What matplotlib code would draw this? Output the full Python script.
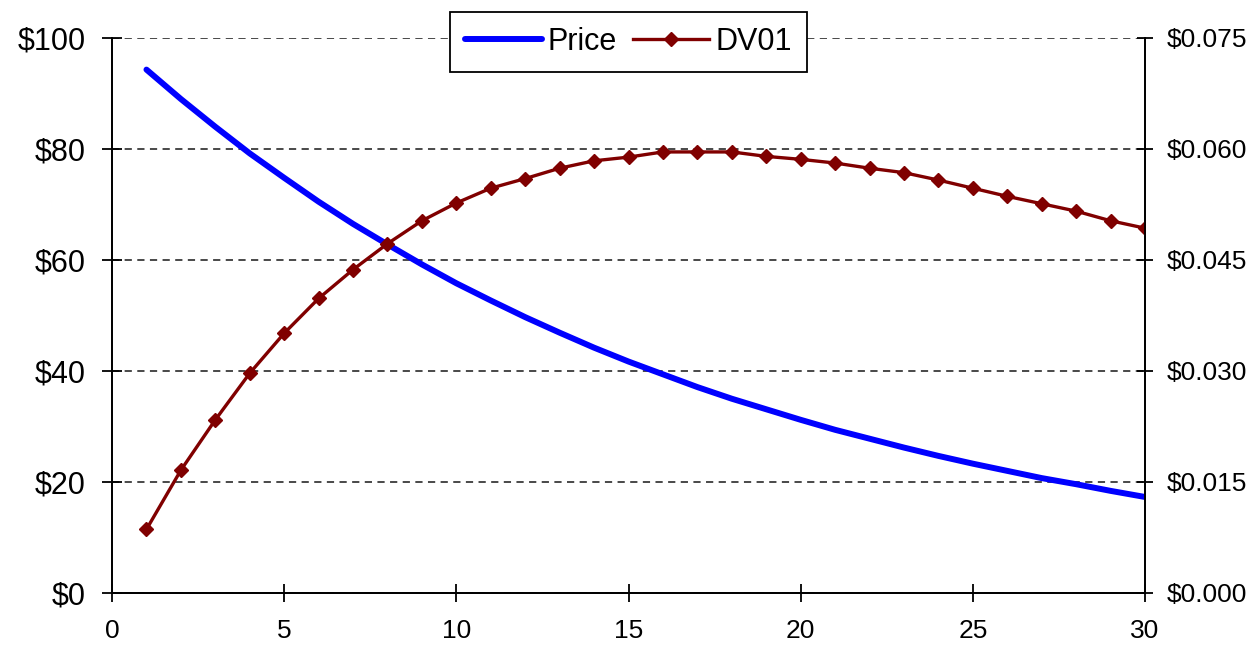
import matplotlib.pyplot as plt
import matplotlib.ticker as mtick

plt.rcParams['font.family'] = ['Liberation Sans', 'DejaVu Sans']

# maturity in years
years = list(range(1, 31))

# bond price ($)
price = [94.3, 89.0, 84.0, 79.2, 74.8, 70.5, 66.5, 62.8, 59.2, 55.8,
         52.7, 49.7, 46.9, 44.2, 41.7, 39.4, 37.1, 35.0, 33.1, 31.2,
         29.4, 27.8, 26.2, 24.7, 23.3, 22.0, 20.7, 19.6, 18.4, 17.3]

# DV01 ($)
dv01 = [0.0086, 0.0166, 0.0234, 0.0297, 0.0351, 0.0398, 0.0437, 0.0472, 0.0503, 0.0527,
        0.0547, 0.0560, 0.0574, 0.0584, 0.0589, 0.0596, 0.0596, 0.0596, 0.0590, 0.0586,
        0.0581, 0.0574, 0.0568, 0.0558, 0.0547, 0.0536, 0.0526, 0.0516, 0.0503, 0.0493]

fig = plt.figure(figsize=(12.56, 6.47), dpi=100)
ax = fig.add_axes([0.0892, 0.0835, 0.8224, 0.8578])
ax2 = ax.twinx()

l1, = ax.plot(years, price, color='#0000ff', lw=4.3, solid_capstyle='round', label='Price')
l2, = ax2.plot(years, dv01, color='#800000', lw=2.4, marker='D', markersize=7.5, label='DV01')

ax.set_xlim(0, 30)
ax.set_ylim(0, 100)
ax2.set_ylim(0, 0.075)
ax.set_xticks(range(0, 31, 5))
ax.set_yticks(range(0, 101, 20))
ax2.set_yticks([0, 0.015, 0.03, 0.045, 0.06, 0.075])
ax.yaxis.set_major_formatter(mtick.FuncFormatter(lambda v, p: '$%d' % v))
ax2.yaxis.set_major_formatter(mtick.FuncFormatter(lambda v, p: '$%.3f' % v))

ax.grid(axis='y', color='#3a3a3a', linestyle=(0, (4, 3)), lw=1.3)
ax.set_axisbelow(True)
for a in (ax, ax2):
    a.spines['top'].set_visible(False)
    for s in a.spines.values():
        s.set_linewidth(1.3)
ax.tick_params(axis='y', labelsize=22, length=14, width=1.3, direction='inout', pad=12)
ax.tick_params(axis='x', labelsize=19, length=13, width=1.3, direction='inout', pad=12)
ax2.tick_params(axis='y', labelsize=19, length=12, width=1.3, direction='inout', pad=10)

leg = ax2.legend(handles=[l1, l2], loc='upper center', bbox_to_anchor=(0.5, 1.047),
                 borderaxespad=0, ncol=2, fontsize=22, frameon=True, fancybox=False,
                 framealpha=1, edgecolor='black', borderpad=0.5, handlelength=2.5,
                 columnspacing=0.5, handletextpad=0.2)
leg.get_frame().set_linewidth(1.3)

fig.savefig('out.png', dpi=100)
